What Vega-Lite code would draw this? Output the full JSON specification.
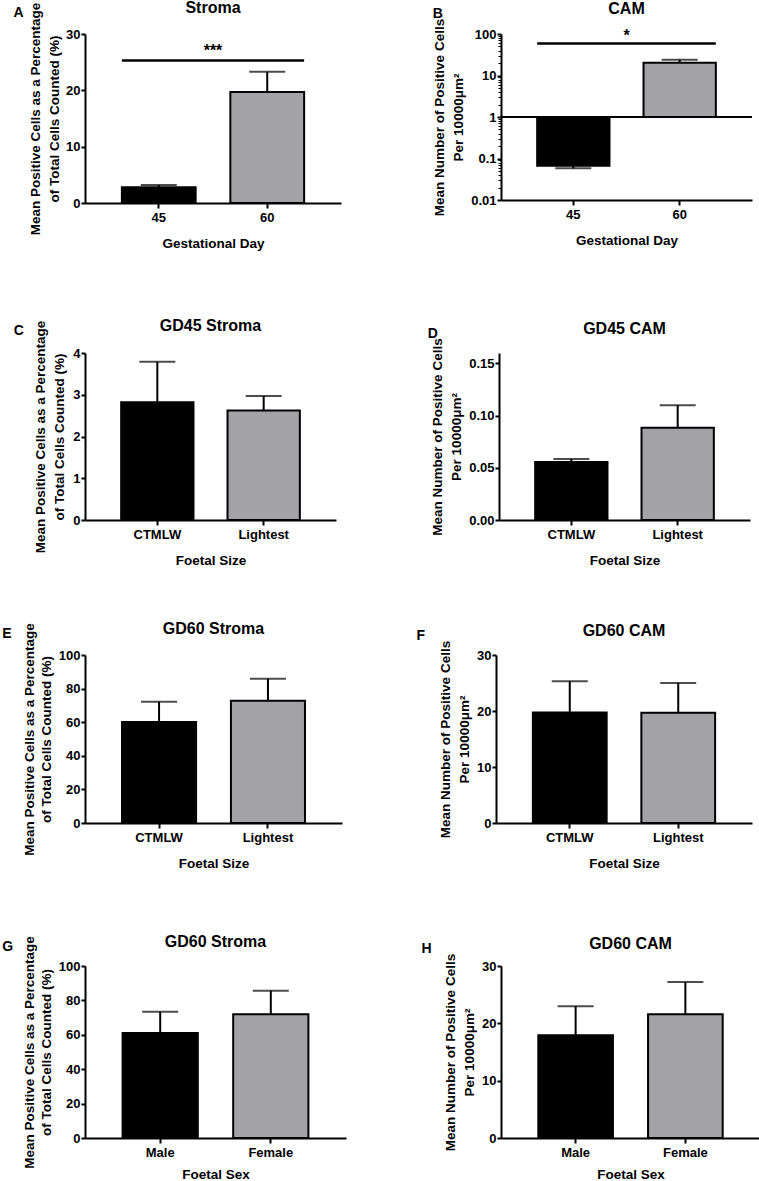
{
  "$schema": "https://vega.github.io/schema/vega-lite/v6.json",
  "padding": {"left": 2, "top": 0, "right": 0, "bottom": 0},
  "background": "white",
  "config": {
    "font": "Liberation Sans",
    "view": {"stroke": null},
    "title": {"fontSize": 16, "fontWeight": "bold", "color": "black"},
    "axis": {
      "domainColor": "black", "domainWidth": 2, "tickColor": "black", "tickWidth": 2, "tickSize": 4,
      "labelFontSize": 13, "labelFontWeight": "bold", "labelColor": "black", "labelPadding": 1, "labelOverlap": false,
      "titleFontSize": 13.5, "titleFontWeight": "bold", "titleColor": "black", "grid": false
    },
    "axisX": {"labelAngle": 0, "titlePadding": 12, "labelPadding": 3, "tickSize": 5},
    "axisY": {"titlePadding": 5, "titleLineHeight": 19}
  },
  "datasets": {
    "A": [{"cat": "45", "mean": 2.8, "err": 3.2}, {"cat": "60", "mean": 19.7, "err": 23.3}],
    "sigA": [{"label": "***", "y": 25.3, "ty": 26.9}],
    "B": [{"cat": "45", "mean": 0.067, "err": 0.058}, {"cat": "60", "mean": 20.3, "err": 24}],
    "sigB": [{"label": "*", "y": 59, "ty": 88}],
    "C": [{"cat": "CTMLW", "mean": 2.82, "err": 3.79}, {"cat": "Lightest", "mean": 2.62, "err": 2.97}],
    "D": [{"cat": "CTMLW", "mean": 0.0555, "err": 0.0585}, {"cat": "Lightest", "mean": 0.0885, "err": 0.11}],
    "E": [{"cat": "CTMLW", "mean": 60.1, "err": 72.2}, {"cat": "Lightest", "mean": 72.8, "err": 85.9}],
    "F": [{"cat": "CTMLW", "mean": 19.75, "err": 25.3}, {"cat": "Lightest", "mean": 19.7, "err": 25.0}],
    "G": [{"cat": "Male", "mean": 61, "err": 73.4}, {"cat": "Female", "mean": 72, "err": 85.6}],
    "H": [{"cat": "Male", "mean": 17.9, "err": 23.0}, {"cat": "Female", "mean": 21.6, "err": 27.2}]
  },
  "spacing": 68,
  "vconcat": [
    {
      "spacing": 91,
      "hconcat": [
        {
          "title": {"text": "A", "anchor": "start", "frame": "bounds", "offset": -20, "dx": -15, "fontSize": 14},
          "vconcat": [{
            "width": 256, "height": 169,
            "title": {"text": "Stroma", "offset": -14},
            "data": {"name": "A"},
            "layer": [
              {"mark": {"type": "rule", "strokeWidth": 2, "color": "black"},
               "encoding": {
                 "x": {"field": "cat", "type": "nominal", "sort": null, "scale": {"paddingInner": 0.32, "paddingOuter": 0.34}, "axis": {"title": "Gestational Day"}},
                 "y": {"field": "mean", "type": "quantitative", "scale": {"domain": [0, 30]}, "axis": {"values": [0, 10, 20, 30], "tickCount": 10, "format": "d", "titlePadding": 4, "title": ["Mean Positive Cells as a Percentage", "of Total Cells Counted (%)"]}}, "y2": {"field": "err"}}},
              {"mark": {"type": "tick", "thickness": 2, "size": 36, "color": "black"},
               "encoding": {"x": {"field": "cat", "type": "nominal", "sort": null}, "y": {"field": "err", "type": "quantitative"}}},
              {"mark": {"type": "bar", "stroke": "black", "strokeWidth": 2},
               "encoding": {"x": {"field": "cat", "type": "nominal", "sort": null}, "y": {"field": "mean", "type": "quantitative"},
                 "fill": {"condition": {"test": "datum.cat === '45'", "value": "black"}, "value": "#a3a3a7"}}},
              {"data": {"name": "sigA"}, "mark": {"type": "rule", "strokeWidth": 2.5, "color": "black"},
               "encoding": {"x": {"datum": "45", "type": "nominal", "bandPosition": 0}, "x2": {"datum": "60", "bandPosition": 1}, "y": {"field": "y", "type": "quantitative"}}},
              {"data": {"name": "sigA"}, "mark": {"type": "text", "fontSize": 16, "fontWeight": "bold", "color": "black"},
               "encoding": {"text": {"field": "label"}, "y": {"field": "ty", "type": "quantitative"}}}
            ]
          }]
        },
        {
          "title": {"text": "B", "anchor": "start", "frame": "bounds", "offset": -20, "fontSize": 14},
          "vconcat": [{
            "width": 251, "height": 166,
            "title": {"text": "CAM", "offset": 1},
            "data": {"name": "B"},
            "resolve": {"axis": {"y": "independent"}},
            "layer": [
              {"mark": {"type": "rule", "strokeWidth": 2, "color": "black"},
               "encoding": {
                 "x": {"field": "cat", "type": "nominal", "sort": null, "scale": {"paddingInner": 0.32, "paddingOuter": 0.34}, "axis": {"title": "Gestational Day"}},
                 "y": {"field": "mean", "type": "quantitative", "scale": {"type": "log", "domain": [0.01, 100]}, "axis": {"values": [0.01, 0.1, 1, 10, 100], "tickCount": 10, "format": "~g", "title": ["Mean Number of Positive Cells", "Per 10000μm²"]}}, "y2": {"field": "err"}}},
              {"mark": {"type": "tick", "thickness": 2, "size": 36, "color": "black"},
               "encoding": {"x": {"field": "cat", "type": "nominal", "sort": null}, "y": {"field": "err", "type": "quantitative", "axis": null}}},
              {"mark": {"type": "bar", "stroke": "black", "strokeWidth": 2},
               "encoding": {"x": {"field": "cat", "type": "nominal", "sort": null}, "y": {"field": "mean", "type": "quantitative", "axis": null}, "y2": {"datum": 1},
                 "fill": {"condition": {"test": "datum.cat === '45'", "value": "black"}, "value": "#a3a3a7"}}},
              {"mark": {"type": "rule", "strokeWidth": 2, "color": "black"},
               "encoding": {"y": {"datum": 1, "type": "quantitative", "axis": {"orient": "left", "values": [0.02, 0.03, 0.04, 0.05, 0.06, 0.07, 0.08, 0.09, 0.2, 0.3, 0.4, 0.5, 0.6, 0.7, 0.8, 0.9, 2, 3, 4, 5, 6, 7, 8, 9, 20, 30, 40, 50, 60, 70, 80, 90], "tickCount": 50, "labels": false, "domain": false, "tickSize": 3, "tickWidth": 1, "title": null}}}},
              {"data": {"name": "sigB"}, "mark": {"type": "rule", "strokeWidth": 2.5, "color": "black"},
               "encoding": {"x": {"datum": "45", "type": "nominal", "bandPosition": 0}, "x2": {"datum": "60", "bandPosition": 1}, "y": {"field": "y", "type": "quantitative", "axis": null}}},
              {"data": {"name": "sigB"}, "mark": {"type": "text", "fontSize": 16, "fontWeight": "bold", "color": "black"},
               "encoding": {"text": {"field": "label"}, "y": {"field": "ty", "type": "quantitative", "axis": null}}}
            ]
          }]
        }
      ]
    },
    {
      "spacing": 53,
      "vconcat": [
        {
          "spacing": 91,
          "hconcat": [
            {
              "title": {"text": "C", "anchor": "start", "frame": "bounds", "offset": -20, "dx": -20, "fontSize": 14},
              "vconcat": [{
                "width": 251, "height": 167,
                "title": {"text": "GD45 Stroma", "offset": -14},
                "data": {"name": "C"},
                "layer": [
                  {"mark": {"type": "rule", "strokeWidth": 2, "color": "black"},
                   "encoding": {
                     "x": {"field": "cat", "type": "nominal", "sort": null, "scale": {"paddingInner": 0.32, "paddingOuter": 0.34}, "axis": {"title": "Foetal Size"}},
                     "y": {"field": "mean", "type": "quantitative", "scale": {"domain": [0, 4]}, "axis": {"values": [0, 1, 2, 3, 4], "tickCount": 10, "format": "d", "titlePadding": 6, "title": ["Mean Positive Cells as a Percentage", "of Total Cells Counted (%)"]}}, "y2": {"field": "err"}}},
                  {"mark": {"type": "tick", "thickness": 2, "size": 36, "color": "black"},
                   "encoding": {"x": {"field": "cat", "type": "nominal", "sort": null}, "y": {"field": "err", "type": "quantitative"}}},
                  {"mark": {"type": "bar", "stroke": "black", "strokeWidth": 2},
                   "encoding": {"x": {"field": "cat", "type": "nominal", "sort": null}, "y": {"field": "mean", "type": "quantitative"},
                     "fill": {"condition": {"test": "datum.cat === 'CTMLW'", "value": "black"}, "value": "#a3a3a7"}}}
                ]
              }]
            },
            {
              "title": {"text": "D", "anchor": "start", "frame": "bounds", "offset": -20, "dx": -3, "fontSize": 14},
              "vconcat": [{
                "width": 251, "height": 167,
                "title": {"text": "GD45 CAM", "offset": 1},
                "data": {"name": "D"},
                "layer": [
                  {"mark": {"type": "rule", "strokeWidth": 2, "color": "black"},
                   "encoding": {
                     "x": {"field": "cat", "type": "nominal", "sort": null, "scale": {"paddingInner": 0.32, "paddingOuter": 0.34}, "axis": {"title": "Foetal Size"}},
                     "y": {"field": "mean", "type": "quantitative", "scale": {"domain": [0, 0.15]}, "axis": {"values": [0, 0.05, 0.1, 0.15], "tickCount": 10, "format": ".2f", "title": ["Mean Number of Positive Cells", "Per 10000μm²"]}}, "y2": {"field": "err"}}},
                  {"mark": {"type": "tick", "thickness": 2, "size": 36, "color": "black"},
                   "encoding": {"x": {"field": "cat", "type": "nominal", "sort": null}, "y": {"field": "err", "type": "quantitative"}}},
                  {"mark": {"type": "bar", "stroke": "black", "strokeWidth": 2},
                   "encoding": {"x": {"field": "cat", "type": "nominal", "sort": null}, "y": {"field": "mean", "type": "quantitative"},
                     "fill": {"condition": {"test": "datum.cat === 'CTMLW'", "value": "black"}, "value": "#a3a3a7"}}}
                ]
              }]
            }
          ]
        },
        {
          "spacing": 63,
          "vconcat": [
            {
              "spacing": 74,
              "hconcat": [
                {
                  "title": {"text": "E", "anchor": "start", "frame": "bounds", "offset": -20, "dx": -20, "fontSize": 14},
                  "vconcat": [{
                    "width": 257, "height": 168,
                    "title": {"text": "GD60 Stroma", "offset": -14},
                    "data": {"name": "E"},
                    "layer": [
                      {"mark": {"type": "rule", "strokeWidth": 2, "color": "black"},
                       "encoding": {
                         "x": {"field": "cat", "type": "nominal", "sort": null, "scale": {"paddingInner": 0.32, "paddingOuter": 0.34}, "axis": {"title": "Foetal Size"}},
                         "y": {"field": "mean", "type": "quantitative", "scale": {"domain": [0, 100]}, "axis": {"values": [0, 20, 40, 60, 80, 100], "tickCount": 10, "format": "d", "titlePadding": 5, "titleLineHeight": 17, "title": ["Mean Positive Cells as a Percentage", "of Total Cells Counted (%)"]}}, "y2": {"field": "err"}}},
                      {"mark": {"type": "tick", "thickness": 2, "size": 36, "color": "black"},
                       "encoding": {"x": {"field": "cat", "type": "nominal", "sort": null}, "y": {"field": "err", "type": "quantitative"}}},
                      {"mark": {"type": "bar", "stroke": "black", "strokeWidth": 2},
                       "encoding": {"x": {"field": "cat", "type": "nominal", "sort": null}, "y": {"field": "mean", "type": "quantitative"},
                         "fill": {"condition": {"test": "datum.cat === 'CTMLW'", "value": "black"}, "value": "#a3a3a7"}}}
                    ]
                  }]
                },
                {
                  "title": {"text": "F", "anchor": "start", "frame": "bounds", "offset": -20, "dx": -22, "fontSize": 14},
                  "vconcat": [{
                    "width": 256, "height": 168,
                    "title": {"text": "GD60 CAM", "offset": 1},
                    "data": {"name": "F"},
                    "layer": [
                      {"mark": {"type": "rule", "strokeWidth": 2, "color": "black"},
                       "encoding": {
                         "x": {"field": "cat", "type": "nominal", "sort": null, "scale": {"paddingInner": 0.32, "paddingOuter": 0.34}, "axis": {"title": "Foetal Size"}},
                         "y": {"field": "mean", "type": "quantitative", "scale": {"domain": [0, 30]}, "axis": {"values": [0, 10, 20, 30], "tickCount": 10, "format": "d", "title": ["Mean Number of Positive Cells", "Per 10000μm²"]}}, "y2": {"field": "err"}}},
                      {"mark": {"type": "tick", "thickness": 2, "size": 36, "color": "black"},
                       "encoding": {"x": {"field": "cat", "type": "nominal", "sort": null}, "y": {"field": "err", "type": "quantitative"}}},
                      {"mark": {"type": "bar", "stroke": "black", "strokeWidth": 2},
                       "encoding": {"x": {"field": "cat", "type": "nominal", "sort": null}, "y": {"field": "mean", "type": "quantitative"},
                         "fill": {"condition": {"test": "datum.cat === 'CTMLW'", "value": "black"}, "value": "#a3a3a7"}}}
                    ]
                  }]
                }
              ]
            },
            {
              "spacing": 75,
              "hconcat": [
                {
                  "title": {"text": "G", "anchor": "start", "frame": "bounds", "offset": -20, "dx": -20, "fontSize": 14},
                  "vconcat": [{
                    "width": 261, "height": 172,
                    "title": {"text": "GD60 Stroma", "offset": -14},
                    "data": {"name": "G"},
                    "layer": [
                      {"mark": {"type": "rule", "strokeWidth": 2, "color": "black"},
                       "encoding": {
                         "x": {"field": "cat", "type": "nominal", "sort": null, "scale": {"paddingInner": 0.32, "paddingOuter": 0.34}, "axis": {"title": "Foetal Sex", "titlePadding": 8}},
                         "y": {"field": "mean", "type": "quantitative", "scale": {"domain": [0, 100]}, "axis": {"values": [0, 20, 40, 60, 80, 100], "tickCount": 10, "format": "d", "titlePadding": 5, "titleLineHeight": 17, "title": ["Mean Positive Cells as a Percentage", "of Total Cells Counted (%)"]}}, "y2": {"field": "err"}}},
                      {"mark": {"type": "tick", "thickness": 2, "size": 36, "color": "black"},
                       "encoding": {"x": {"field": "cat", "type": "nominal", "sort": null}, "y": {"field": "err", "type": "quantitative"}}},
                      {"mark": {"type": "bar", "stroke": "black", "strokeWidth": 2},
                       "encoding": {"x": {"field": "cat", "type": "nominal", "sort": null}, "y": {"field": "mean", "type": "quantitative"},
                         "fill": {"condition": {"test": "datum.cat === 'Male'", "value": "black"}, "value": "#a3a3a7"}}}
                    ]
                  }]
                },
                {
                  "title": {"text": "H", "anchor": "start", "frame": "bounds", "offset": -20, "dx": -22, "fontSize": 14},
                  "vconcat": [{
                    "width": 259, "height": 172,
                    "title": {"text": "GD60 CAM", "offset": 1},
                    "data": {"name": "H"},
                    "layer": [
                      {"mark": {"type": "rule", "strokeWidth": 2, "color": "black"},
                       "encoding": {
                         "x": {"field": "cat", "type": "nominal", "sort": null, "scale": {"paddingInner": 0.32, "paddingOuter": 0.34}, "axis": {"title": "Foetal Sex", "titlePadding": 8}},
                         "y": {"field": "mean", "type": "quantitative", "scale": {"domain": [0, 30]}, "axis": {"values": [0, 10, 20, 30], "tickCount": 10, "format": "d", "title": ["Mean Number of Positive Cells", "Per 10000μm²"]}}, "y2": {"field": "err"}}},
                      {"mark": {"type": "tick", "thickness": 2, "size": 36, "color": "black"},
                       "encoding": {"x": {"field": "cat", "type": "nominal", "sort": null}, "y": {"field": "err", "type": "quantitative"}}},
                      {"mark": {"type": "bar", "stroke": "black", "strokeWidth": 2},
                       "encoding": {"x": {"field": "cat", "type": "nominal", "sort": null}, "y": {"field": "mean", "type": "quantitative"},
                         "fill": {"condition": {"test": "datum.cat === 'Male'", "value": "black"}, "value": "#a3a3a7"}}}
                    ]
                  }]
                }
              ]
            }
          ]
        }
      ]
    }
  ]
}
